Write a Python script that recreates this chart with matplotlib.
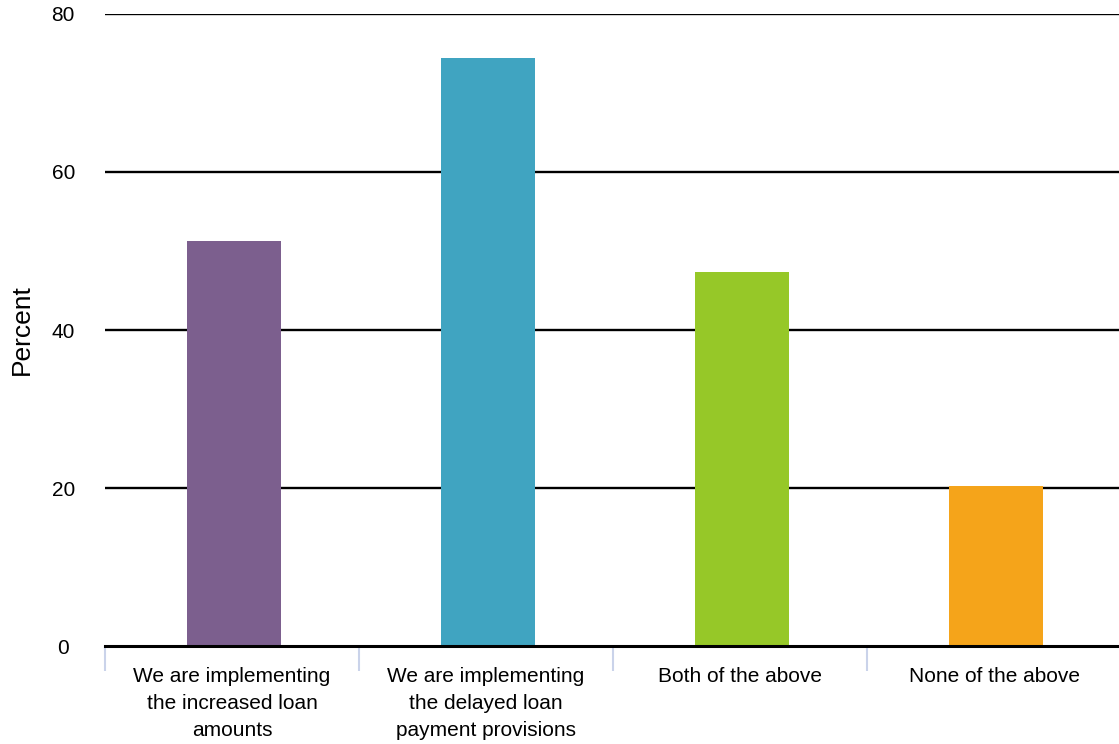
import matplotlib.pyplot as plt
import numpy as np

plt.rcParams['font.family'] = ['Liberation Sans', 'DejaVu Sans']

categories = ["We are implementing\nthe increased loan\namounts",
              "We are implementing\nthe delayed loan\npayment provisions",
              "Both of the above",
              "None of the above"]
percent = [51.3, 74.4, 47.3, 20.3]
colors = ["#7C5F8E", "#40A4C1", "#96C828", "#F5A41A"]
yticks = [0, 20, 40, 60, 80]

fig = plt.figure(figsize=(11.19, 7.44), dpi=100)
ax = fig.add_axes([0.0938, 0.1317, 0.9082, 0.8495])

x = np.arange(len(categories))
ax.bar(x + 0.008, percent, width=0.37, color=colors, zorder=2)

ax.set_xlim(-0.5, len(categories) - 0.5)
ax.set_ylim(0, 80)
ax.set_yticks(yticks)
ax.set_yticklabels([str(v) for v in yticks], fontsize=15, ha='center')
ax.tick_params(axis='y', length=0, pad=30)
for v in yticks[1:]:
    ax.axhline(v, color='black', lw=1.7, zorder=1)
ax.axhline(0, color='black', lw=2.2, zorder=3, clip_on=False)

# category labels sit between the boundary ticks
ax.set_xticks(x)
ax.set_xticklabels(categories, fontsize=15, linespacing=1.55, va='top')
ax.tick_params(axis='x', length=0, pad=15)
ax.set_xticks(np.arange(-0.5, len(categories), 1.0), minor=True)
ax.tick_params(axis='x', which='minor', length=18, width=1.5,
               color='#CAD3EA', direction='out')

for s in ax.spines.values():
    s.set_visible(False)

ax.set_ylabel("Percent", fontsize=19)
ax.yaxis.set_label_coords(-0.07, 0.5)

fig.savefig("out.png", dpi=100)
